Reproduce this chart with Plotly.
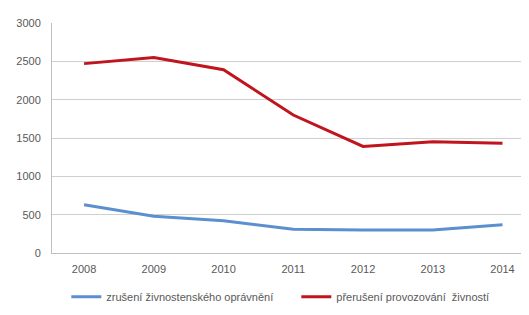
import plotly.graph_objects as go

years = ["2008", "2009", "2010", "2011", "2012", "2013", "2014"]
zruseni = [630, 480, 420, 310, 300, 300, 370]
preruseni = [2470, 2550, 2390, 1800, 1390, 1450, 1430]
y_ticks = [0, 500, 1000, 1500, 2000, 2500, 3000]

x_idx = list(range(len(years)))

fig = go.Figure()
fig.add_trace(go.Scatter(x=x_idx, y=zruseni, mode="lines",
                         name="zrušení živnostenského oprávnění",
                         line=dict(color="#5b8fcf", width=3)))
fig.add_trace(go.Scatter(x=x_idx, y=preruseni, mode="lines",
                         name="přerušení provozování  živností",
                         line=dict(color="#c0141e", width=3)))

fig.update_layout(
    width=529, height=315,
    margin=dict(l=44, r=8, t=15, b=70),
    plot_bgcolor="white", paper_bgcolor="white",
    font=dict(family="Liberation Sans, Arial", size=11, color="#595959"),
    showlegend=True,
    legend=dict(orientation="h", x=0.03, xanchor="left", y=-0.19, yanchor="middle",
                font=dict(size=11, color="#595959"), itemwidth=30, entrywidth=185),
    xaxis=dict(range=[-0.46, 6.38], tickmode="array", tickvals=x_idx, ticktext=years,
               showgrid=False, zeroline=False, showline=True, linecolor="#bfbfbf",
               linewidth=1, ticks="", ticklabelstandoff=6),
    yaxis=dict(range=[0, 3000], tickvals=y_ticks, showgrid=True, gridcolor="#cfcfcf",
               gridwidth=1, zeroline=False, showline=True, linecolor="#bfbfbf",
               linewidth=1, ticks="", ticklabelstandoff=8),
)

fig.write_html("out.html")
